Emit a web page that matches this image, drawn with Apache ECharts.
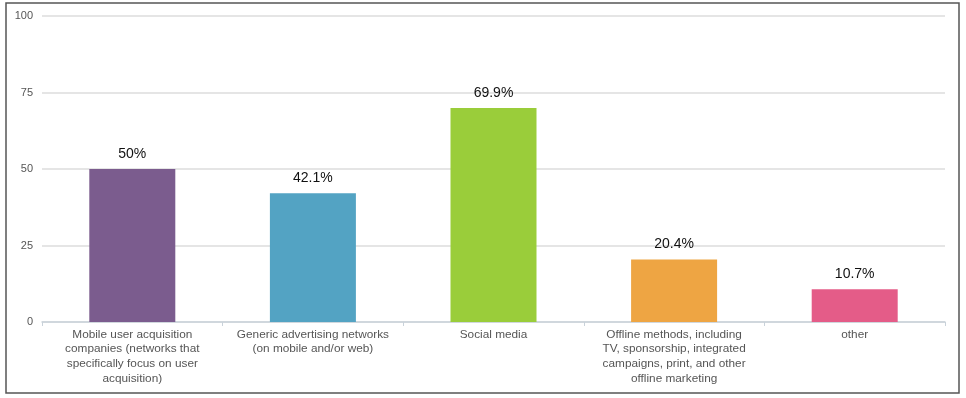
<!DOCTYPE html>
<html>
<head>
<meta charset="utf-8">
<script src="https://cdn.jsdelivr.net/npm/echarts@6/dist/echarts.min.js"></script>
<style>
html,body{margin:0;padding:0;background:#fff;}
#c{width:966px;height:398px;}
</style>
</head>
<body>
<div id="c"></div>
<script>
const categories = [
  "Mobile user acquisition\ncompanies (networks that\nspecifically focus on user\nacquisition)",
  "Generic advertising networks\n(on mobile and/or web)",
  "Social media",
  "Offline methods, including\nTV, sponsorship, integrated\ncampaigns, print, and other\noffline marketing",
  "other"
];
const values = [50, 42.1, 69.9, 20.4, 10.7];
const valueLabels = ["50%", "42.1%", "69.9%", "20.4%", "10.7%"];
const barColors = ["#7b5c8e", "#53a3c3", "#9acd3a", "#eea543", "#e45c88"];
const yTicks = [0, 25, 50, 75, 100];

const chart = echarts.init(document.getElementById('c'), null, {renderer: 'canvas'});
chart.setOption({
  animation: false,
  backgroundColor: '#fff',
  graphic: [{
    type: 'rect',
    shape: {x: 6, y: 3, width: 953, height: 390},
    style: {fill: 'none', stroke: '#555', lineWidth: 1.5},
    silent: true
  }],
  grid: {left: 42, right: 21, top: 16, bottom: 76, containLabel: false},
  xAxis: {
    type: 'category',
    data: categories,
    axisLine: {lineStyle: {color: '#c9d2da', width: 1.5}},
    axisTick: {show: true, length: 4, lineStyle: {color: '#c9d2da'}},
    axisLabel: {
      interval: 0,
      color: '#555',
      fontFamily: 'Liberation Sans, Arial, sans-serif',
      fontSize: 11.8,
      lineHeight: 14.7,
      margin: 5
    }
  },
  yAxis: {
    type: 'value',
    min: yTicks[0],
    max: yTicks[yTicks.length - 1],
    interval: yTicks[1] - yTicks[0],
    axisLine: {show: false},
    axisTick: {show: false},
    splitLine: {lineStyle: {color: '#dcdcdc', width: 1.5}},
    axisLabel: {
      color: '#555',
      fontFamily: 'Liberation Sans, Arial, sans-serif',
      fontSize: 11,
      margin: 9
    }
  },
  series: [{
    type: 'bar',
    barWidth: 86,
    data: values.map((v, i) => ({value: v, itemStyle: {color: barColors[i]}})),
    label: {
      show: true,
      position: 'top',
      distance: 8,
      color: '#111',
      fontFamily: 'Liberation Sans, Arial, sans-serif',
      fontSize: 14,
      formatter: p => valueLabels[p.dataIndex]
    }
  }]
});
</script>
</body>
</html>
